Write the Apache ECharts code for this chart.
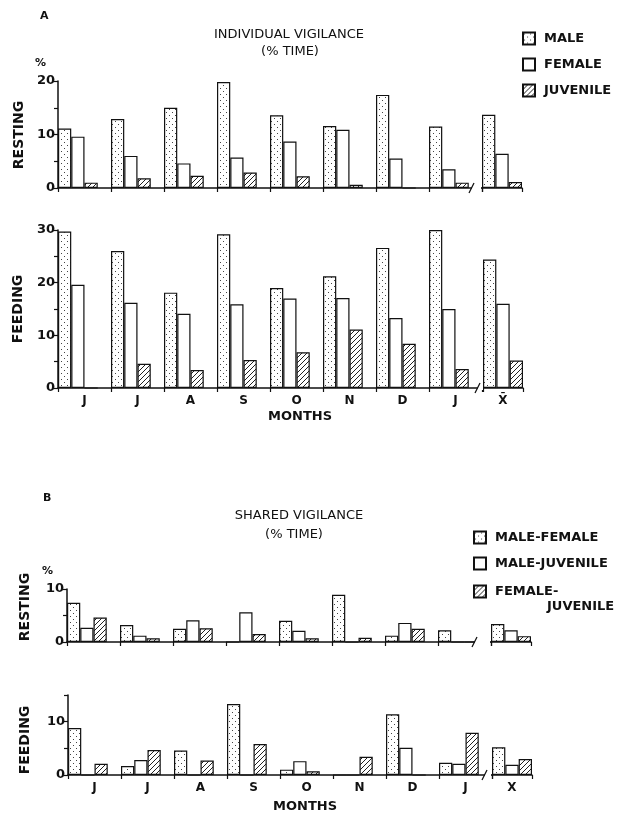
<!DOCTYPE html>
<html>
<head>
<meta charset="utf-8">
<script src="https://cdn.jsdelivr.net/npm/echarts@6/dist/echarts.min.js"></script>
<style>
  html, body { margin: 0; background: #fff; }
  #chart { width: 627px; height: 814px; }
</style>
</head>
<body>
<div id="chart"></div>
<script>
// month categories, the last one is the mean
const monthsA = ['J', 'J', 'A', 'S', 'O', 'N', 'D', 'J', 'X\u0304'];
const monthsB = ['J', 'J', 'A', 'S', 'O', 'N', 'D', 'J', 'X'];

// A - individual vigilance (% time)
const restMale   = [11.1, 12.9, 15.0, 19.8, 13.6, 11.6, 17.4, 11.5, 13.7];
const restFemale = [9.6, 6.0, 4.6, 5.7, 8.7, 10.9, 5.5, 3.5, 6.4];
const restJuv    = [1.0, 1.8, 2.3, 2.9, 2.2, 0.6, 0, 1.0, 1.1];
const feedMale   = [29.7, 26.0, 18.1, 29.2, 19.0, 21.2, 26.6, 30.0, 24.4];
const feedFemale = [19.6, 16.2, 14.1, 15.9, 17.0, 17.1, 13.3, 15.0, 16.0];
const feedJuv    = [0, 4.6, 3.4, 5.3, 6.8, 11.1, 8.4, 3.6, 5.2];

// B - shared vigilance (% time)
const restMF = [7.4, 3.2, 2.5, 0, 4.0, 8.9, 1.2, 2.2, 3.4];
const restMJ = [2.7, 1.2, 4.1, 5.6, 2.1, 0, 3.6, 0, 2.2];
const restFJ = [4.6, 0.7, 2.6, 1.5, 0.7, 0.8, 2.5, 0, 1.1];
const feedMF = [8.8, 1.7, 4.6, 13.3, 1.0, 0, 11.4, 2.3, 5.2];
const feedMJ = [0, 2.8, 0, 0, 2.6, 0, 5.1, 2.1, 1.9];
const feedFJ = [2.1, 4.7, 2.7, 5.8, 0.7, 3.4, 0, 7.9, 3.0];

const FONT = 'DejaVu Sans';
const INK = '#111';

// fill patterns
function dots() {
  const c = document.createElement('canvas');
  c.width = c.height = 6;
  const g = c.getContext('2d');
  g.fillStyle = '#fff'; g.fillRect(0, 0, 6, 6);
  g.fillStyle = '#444';
  g.fillRect(1, 1, 1, 1);
  g.fillRect(4, 4, 1, 1);
  return c;
}
function hatch() {
  const c = document.createElement('canvas');
  c.width = c.height = 5;
  const g = c.getContext('2d');
  g.fillStyle = '#fff'; g.fillRect(0, 0, 5, 5);
  g.strokeStyle = '#222'; g.lineWidth = 1;
  g.beginPath();
  g.moveTo(0, 5); g.lineTo(5, 0);
  g.moveTo(-1, 1); g.lineTo(1, -1);
  g.moveTo(4, 6); g.lineTo(6, 4);
  g.stroke();
  return c;
}
const styDots  = { color: { image: dots(), repeat: 'repeat' }, borderColor: INK, borderWidth: 1.2 };
const styWhite = { color: '#fff', borderColor: INK, borderWidth: 1.2 };
const styHatch = { color: { image: hatch(), repeat: 'repeat' }, borderColor: INK, borderWidth: 1.2 };

const grid = [], xAxis = [], yAxis = [], series = [];
const axisText = { fontFamily: FONT, fontWeight: 'bold', fontSize: 12, color: INK };

function addPanel(p) {
  const gi = grid.length;
  grid.push({ left: p.left, top: p.top, width: 424, height: p.height, containLabel: false, outerBoundsMode: 'none' });
  grid.push({ left: p.xLeft, top: p.top, width: 40, height: p.height, containLabel: false, outerBoundsMode: 'none' });
  [0, 1].forEach(k => {
    xAxis.push({
      type: 'category', gridIndex: gi + k,
      data: k === 0 ? p.cats.slice(0, 8) : p.cats.slice(8),
      axisLine: { lineStyle: { color: INK, width: 1.5 } },
      axisTick: { show: true, interval: 0, length: 4, lineStyle: { color: INK, width: 1.2 } },
      axisLabel: Object.assign({ show: p.labels, interval: 0, margin: 7 }, axisText)
    });
    yAxis.push({
      type: 'value', gridIndex: gi + k, show: k === 0,
      min: 0, max: p.max, interval: 5,
      axisLine: { show: true, lineStyle: { color: INK, width: 1.5 } },
      axisTick: { show: true, length: 4, lineStyle: { color: INK, width: 1.2 } },
      axisLabel: Object.assign({ margin: 3, formatter: v => (v % 10 === 0 ? v : '') }, axisText, { fontSize: 13 }),
      splitLine: { show: false }
    });
  });
  p.sets.forEach(s => {
    [0, 1].forEach(k => {
      series.push({
        type: 'bar', name: s.name, xAxisIndex: gi + k, yAxisIndex: gi + k,
        data: k === 0 ? s.data.slice(0, 8) : s.data.slice(8),
        itemStyle: s.style, barGap: '0%', barCategoryGap: '0%', silent: true
      });
    });
  });
  // empty fourth slot leaves the gap between months
  series.push({ type: 'bar', name: 'gap', xAxisIndex: gi, yAxisIndex: gi, data: [], barGap: '0%', barCategoryGap: '0%' });
}

addPanel({ left: 58, top: 81, height: 107, xLeft: 482, max: 20, cats: monthsA, labels: false, sets: [
  { name: 'MALE', data: restMale, style: styDots },
  { name: 'FEMALE', data: restFemale, style: styWhite },
  { name: 'JUVENILE', data: restJuv, style: styHatch }] });
addPanel({ left: 58, top: 230, height: 158, xLeft: 483, max: 30, cats: monthsA, labels: true, sets: [
  { name: 'MALE', data: feedMale, style: styDots },
  { name: 'FEMALE', data: feedFemale, style: styWhite },
  { name: 'JUVENILE', data: feedJuv, style: styHatch }] });
addPanel({ left: 67, top: 589, height: 53, xLeft: 491, max: 10, cats: monthsB, labels: false, sets: [
  { name: 'MALE-FEMALE', data: restMF, style: styDots },
  { name: 'MALE-JUVENILE', data: restMJ, style: styWhite },
  { name: 'FEMALE-JUVENILE', data: restFJ, style: styHatch }] });
addPanel({ left: 68, top: 695, height: 80, xLeft: 492, max: 15, cats: monthsB, labels: true, sets: [
  { name: 'MALE-FEMALE', data: feedMF, style: styDots },
  { name: 'MALE-JUVENILE', data: feedMJ, style: styWhite },
  { name: 'FEMALE-JUVENILE', data: feedFJ, style: styHatch }] });

function txt(text, x, y, opt) {
  opt = opt || {};
  return {
    type: 'text', x: x, y: y, rotation: opt.rot || 0, z: 100,
    style: {
      text: text, fill: INK,
      font: (opt.bold ? 'bold ' : '') + (opt.size || 12) + 'px "' + FONT + '"',
      textAlign: opt.align || 'center', align: opt.align || 'center',
      textVerticalAlign: 'middle', verticalAlign: 'middle'
    }
  };
}
// axis break: gap in the baseline plus a slash
function brk(x0, x1, y) {
  return [
    { type: 'rect', z: 90, shape: { x: x0, y: y - 2, width: x1 - x0, height: 4 }, style: { fill: '#fff' } },
    { type: 'line', z: 95, shape: { x1: x0 - 3, y1: y + 5, x2: x0 + 2, y2: y - 5 }, style: { stroke: INK, lineWidth: 1.3 } }
  ];
}

const graphic = [
  txt('A', 40, 16, { bold: true, size: 11, align: 'left' }),
  txt('INDIVIDUAL VIGILANCE', 289, 35, { size: 13 }),
  txt('(% TIME)', 290, 52, { size: 13 }),
  txt('%', 35, 63, { bold: true, size: 11, align: 'left' }),
  txt('RESTING', 19, 135, { bold: true, size: 14, rot: Math.PI / 2 }),
  txt('FEEDING', 18, 309, { bold: true, size: 14, rot: Math.PI / 2 }),
  txt('MONTHS', 300, 417, { bold: true, size: 13 }),
  txt('B', 43, 498, { bold: true, size: 11, align: 'left' }),
  txt('SHARED VIGILANCE', 299, 516, { size: 13 }),
  txt('(% TIME)', 294, 535, { size: 13 }),
  txt('%', 42, 571, { bold: true, size: 11, align: 'left' }),
  txt('RESTING', 25, 607, { bold: true, size: 14, rot: Math.PI / 2 }),
  txt('FEEDING', 25, 740, { bold: true, size: 14, rot: Math.PI / 2 }),
  txt('MONTHS', 305, 807, { bold: true, size: 13 })
].concat(brk(472, 481, 188), brk(478, 483, 388), brk(475, 490, 642), brk(485, 491, 775));

const legendText = { fontFamily: FONT, fontWeight: 'bold', fontSize: 13, color: INK, padding: [0, 0, 0, 4], lineHeight: 15 };
const legendBase = { orient: 'vertical', padding: 0, itemWidth: 12, itemHeight: 12, icon: 'rect', selectedMode: false };

const chart = echarts.init(document.getElementById('chart'));
chart.setOption({
  animation: false,
  backgroundColor: '#fff',
  grid: grid, xAxis: xAxis, yAxis: yAxis, series: series,
  graphic: graphic,
  legend: [
    Object.assign({}, legendBase, {
      data: ['MALE', 'FEMALE', 'JUVENILE'], left: 522, top: 31, itemGap: 11,
      textStyle: legendText
    }),
    Object.assign({}, legendBase, {
      data: ['MALE-FEMALE', 'MALE-JUVENILE'], left: 473, top: 530, itemGap: 11,
      textStyle: legendText
    }),
    // the two-line entry: a blank first line keeps the box beside "FEMALE-"
    Object.assign({}, legendBase, {
      data: ['FEMALE-JUVENILE'], left: 473, top: 569,
      formatter: () => '{e|}\n{a|FEMALE-}\n{b|JUVENILE}',
      textStyle: Object.assign({}, legendText, {
        rich: {
          e: { fontSize: 13, lineHeight: 15 },
          a: { fontFamily: FONT, fontWeight: 'bold', fontSize: 13, color: INK, lineHeight: 15 },
          b: { fontFamily: FONT, fontWeight: 'bold', fontSize: 13, color: INK, lineHeight: 15, padding: [0, 0, 0, 52] }
        }
      })
    })
  ]
});
</script>
</body>
</html>
